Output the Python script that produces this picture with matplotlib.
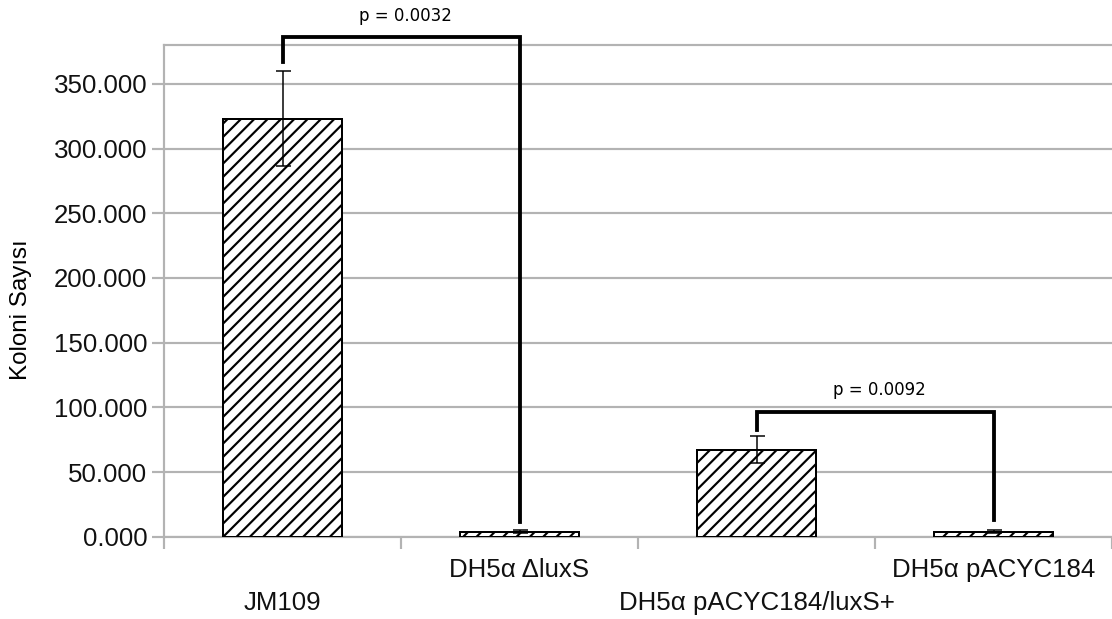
import matplotlib.pyplot as plt

# data
groups = ['JM109', 'DH5α ΔluxS', 'DH5α pACYC184/luxS+', 'DH5α pACYC184']
means = [323.0, 4.0, 67.3, 4.0]
errs = [36.7, 1.3, 10.4, 1.0]

# significance brackets: (left, right), bar height, left leg end, right leg end, text
pairs = [(0, 1), (2, 3)]
bracket_top = [386, 96]
leg_left = [367, 82.5]
leg_right = [11.5, 13]
p_labels = ['p = 0.0032', 'p = 0.0092']
p_y = [402.5, 113]

yticks = [0, 50, 100, 150, 200, 250, 300, 350]

plt.rcParams['font.family'] = ['Liberation Sans', 'DejaVu Sans']
plt.rcParams['hatch.linewidth'] = 1.3

fig = plt.figure(figsize=(1112 / 120, 619 / 120), dpi=120)
ax = fig.add_axes([164 / 1112, 1 - 536.7 / 619, 1 - 164 / 1112, (536.7 - 45) / 619])

x = list(range(len(groups)))
ax.bar(x, means, width=0.5, color='white', edgecolor='black', linewidth=1.2,
       hatch='///', zorder=3)
ax.errorbar(x, means, yerr=errs, fmt='none', ecolor='black', elinewidth=0.9,
            capsize=4.5, capthick=0.9, zorder=4)

for (a, b), top, la, lb, lab, ty in zip(pairs, bracket_top, leg_left, leg_right, p_labels, p_y):
    ax.plot([a, a, b, b], [la, top, top, lb], color='black', linewidth=2.3,
            solid_joinstyle='miter', clip_on=False, zorder=5)
    ax.text((a + b) / 2 + 0.02, ty, lab, ha='center', va='center', fontsize=10,
            family='DejaVu Sans', clip_on=False)

ax.set_xlim(-0.5, 3.5)
ax.set_ylim(0, 380)
ax.set_yticks(yticks)
ax.set_yticklabels([f'{v}.000' for v in yticks], fontsize=15.5, color='#111111')
ax.yaxis.grid(True, color='#b3b3b3', linewidth=1.3, zorder=0)
ax.set_axisbelow(True)

# category boundaries as major ticks, names as minor ticks (staggered)
ax.set_xticks([-0.5, 0.5, 1.5, 2.5, 3.5])
ax.set_xticklabels([])
ax.set_xticks(x, minor=True)
ax.set_xticklabels(['\n' + g if i % 2 == 0 else g for i, g in enumerate(groups)],
                   minor=True, fontsize=15.5, color='#111111')
for lbl in ax.get_xticklabels(minor=True):
    lbl.set_linespacing(1.45)
ax.tick_params(axis='x', which='minor', length=0, pad=13)
ax.tick_params(axis='x', which='major', length=7, width=1.3, color='#b3b3b3')
ax.tick_params(axis='y', length=7, width=1.3, color='#b3b3b3', pad=3)

for s in ['left', 'bottom', 'top']:
    ax.spines[s].set_color('#b3b3b3')
    ax.spines[s].set_linewidth(1.3)
ax.spines['right'].set_visible(False)

ax.set_ylabel('Koloni Sayısı', fontsize=14.5)
ax.yaxis.set_label_coords(-0.139, 0.462)

fig.savefig('out.png', dpi=120)
